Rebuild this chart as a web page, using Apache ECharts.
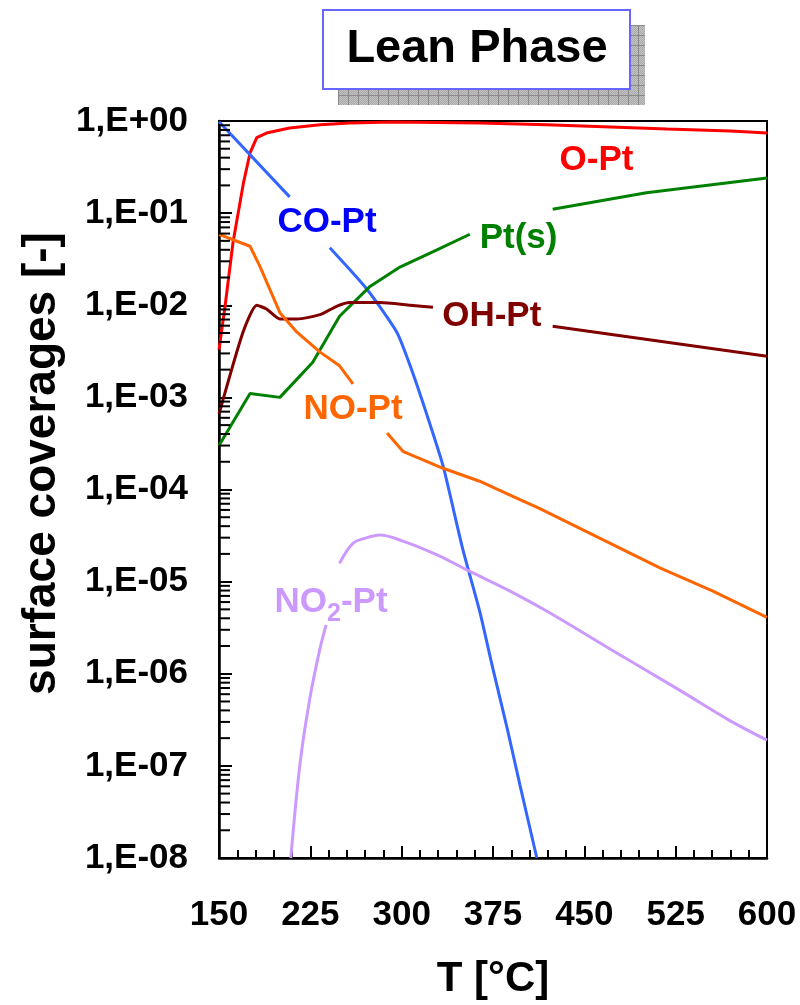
<!DOCTYPE html>
<html>
<head>
<meta charset="utf-8">
<title>Lean Phase – surface coverages</title>
<script src="https://cdn.jsdelivr.net/npm/echarts@6/dist/echarts.min.js"></script>
<style>
  html, body { margin: 0; padding: 0; background: #fff; }
  #chart { width: 800px; height: 1005px; }
</style>
</head>
<body>
<div id="chart"></div>
<script>
// Temperatures [°C] and surface coverages [-]; null marks a break in the curve where its label sits
const oPtT   = [150, 155, 161.5, 170, 175.5, 181, 189, 208, 233, 257, 293, 364, 419, 518, 570, 600];
const oPtV   = [3.3e-3, 9.8e-3, 0.048, 0.21, 0.45, 0.66, 0.74, 0.84, 0.91, 0.95, 0.975, 0.95, 0.91, 0.82, 0.78, 0.74];

const coPtT  = [150, 208, null, 241, 271.5, 296, 307, 321, 334, 350, 364, 375, 386.5, 397, 411];
const coPtV  = [0.98, 0.15, null, 0.042, 0.0149, 5.1e-3, 2.2e-3, 6.3e-4, 1.8e-4, 2.3e-5, 4.8e-6, 1.12e-6, 2.6e-7, 6.3e-8, 1.0e-8];

const ptST   = [150, 175.5, 200, 227, 249, 274, 298.6, 329, 356, null, 424, 501, 600];
const ptSV   = [3.0e-4, 1.1e-3, 1.0e-3, 2.4e-3, 7.6e-3, 0.016, 0.026, 0.04, 0.059, null, 0.11, 0.166, 0.24];

const ohPtT  = [150, 169.7, 181, 189, 200, 214, 233, 247, 257.5, 282, 307, 325.7, null, 424, 600];
const ohPtV  = [6.6e-4, 5.1e-3, 0.0100, 9.1e-3, 7.1e-3, 7.1e-3, 7.9e-3, 9.8e-3, 0.0107, 0.0107, 0.0100, 9.5e-3, null, 5.9e-3, 2.8e-3];

const noPtT  = [150, 175.5, 183.7, 200, 214, 233, 249, 260, null, 288, 301, 334, 364, 389, 413.5, 463, 512, 555.6, 600];
const noPtV  = [0.0589, 0.0437, 0.0263, 8.3e-3, 5.1e-3, 3.1e-3, 2.2e-3, 1.4e-3, null, 4.1e-4, 2.6e-4, 1.7e-4, 1.23e-4, 8.7e-5, 6.2e-5, 2.95e-5, 1.41e-5, 7.9e-6, 4.1e-6];

const no2PtT = [209, 216.5, 224.7, 233, 238, null, 249, 260, 271.5, 282, 301, 329, 356, 389, 419, 473.5, 528.5, 569.5, 600];
const no2PtV = [1.0e-8, 1.05e-7, 5.5e-7, 1.9e-6, 3.4e-6, null, 1.58e-5, 2.6e-5, 3.0e-5, 3.2e-5, 2.75e-5, 1.95e-5, 1.29e-5, 7.9e-6, 4.8e-6, 1.78e-6, 6.6e-7, 3.1e-7, 1.9e-7];

// Where each species name is written: [T, coverage]
const labelPos = {
  'O-Pt':   [460, 0.37],
  'CO-Pt':  [238.7, 0.079],
  'Pt(s)':  [396, 0.053],
  'OH-Pt':  [374, 7.6e-3],
  'NO-Pt':  [260, 7.5e-4],
  'NO2-Pt': [242, 6.0e-6]
};

// Axis settings
const xMin = 150, xMax = 600, xStep = 75;
const yMin = 1e-8, yMax = 1;
const decades = [-8, -7, -6, -5, -4, -3, -2, -1];
const minorFactors = [2, 3, 4, 5, 6, 7, 8, 9];

const FONT = '"Liberation Sans", Arial, sans-serif';

function zip(ts, vs) {
  return ts.map((t, i) => (t === null ? [null, null] : [t, vs[i]]));
}

function expLabel(v) {
  const e = Math.round(Math.log10(v));
  const sign = e < 0 ? '-' : '+';
  const a = Math.abs(e);
  return '1,E' + sign + (a < 10 ? '0' + a : '' + a);
}

function curve(name, ts, vs, color, labelColor, smooth, labelText, rich) {
  return {
    name: name,
    type: 'line',
    data: zip(ts, vs),
    connectNulls: false,
    showSymbol: false,
    symbol: 'none',
    smooth: smooth,
    lineStyle: { color: color, width: 3 },
    itemStyle: { color: color },
    z: 3,
    markPoint: {
      symbol: 'circle',
      symbolSize: 1,
      silent: true,
      itemStyle: { color: 'rgba(0,0,0,0)' },
      label: {
        show: true,
        position: 'inside',
        color: labelColor,
        fontFamily: FONT,
        fontWeight: 'bold',
        fontSize: 35,
        formatter: labelText,
        rich: rich || {}
      },
      data: [{ coord: labelPos[name], value: 0 }]
    }
  };
}

// Log-decade minor ticks (2..9 × 10^d) drawn on the inside of the left axis
const minorTickData = [];
decades.forEach(d => minorFactors.forEach(k => minorTickData.push([xMin, k * Math.pow(10, d)])));

// Hatched pattern for the title shadow
function hatchPattern() {
  const c = document.createElement('canvas');
  c.width = 10; c.height = 10;
  const g = c.getContext('2d');
  g.fillStyle = '#c4c4c4';
  g.fillRect(0, 0, 10, 10);
  g.fillStyle = '#a8a8a8';
  for (let y = 0; y < 10; y++) {
    for (let x = (y % 2); x < 10; x += 2) g.fillRect(x, y, 1, 1);
  }
  g.fillStyle = '#8a8a8a';
  g.fillRect(0, 0, 10, 1);
  g.fillRect(0, 0, 1, 10);
  return c;
}

const chart = echarts.init(document.getElementById('chart'), null, { renderer: 'canvas' });

const option = {
  backgroundColor: '#ffffff',
  animation: false,
  grid: {
    left: 219, right: 33, top: 121, bottom: 144,
    show: true, borderColor: '#000', borderWidth: 2, backgroundColor: 'transparent'
  },
  xAxis: {
    type: 'value',
    min: xMin, max: xMax, interval: xStep,
    name: 'T [°C]',
    nameLocation: 'middle',
    nameGap: 100,
    nameTextStyle: { color: '#000', fontFamily: FONT, fontWeight: 'bold', fontSize: 42 },
    axisLine: { show: true, lineStyle: { color: '#000', width: 2.5 } },
    axisTick: { show: true, inside: true, length: 12, lineStyle: { color: '#000', width: 2 } },
    minorTick: { show: true, splitNumber: 5, length: 8, lineStyle: { color: '#000', width: 2 } },
    splitLine: { show: false },
    axisLabel: { color: '#000', margin: 40, fontFamily: FONT, fontWeight: 'bold', fontSize: 35 }
  },
  yAxis: {
    type: 'log',
    logBase: 10,
    min: yMin, max: yMax,
    splitNumber: 8,
    name: 'surface coverages [-]',
    nameLocation: 'middle',
    nameRotate: 90,
    nameGap: 152,
    nameTextStyle: {
      color: '#000', fontFamily: FONT, fontWeight: 'bold', fontSize: 46,
      padding: [0, 0, 0, 52]
    },
    axisLine: { show: true, lineStyle: { color: '#000', width: 2.5 } },
    axisTick: { show: true, inside: true, length: 13, lineStyle: { color: '#000', width: 2 } },
    minorTick: { show: false },
    splitLine: { show: false },
    axisLabel: {
      color: '#000', margin: 31, fontFamily: FONT, fontWeight: 'bold', fontSize: 35,
      formatter: expLabel
    }
  },
  series: [
    {
      name: 'minor ticks',
      type: 'custom',
      silent: true,
      clip: false,
      z: 5,
      data: minorTickData,
      renderItem: function (params, api) {
        const p = api.coord([api.value(0), api.value(1)]);
        return {
          type: 'line',
          shape: { x1: p[0], y1: p[1], x2: p[0] + 11, y2: p[1] },
          style: { stroke: '#000', lineWidth: 2 }
        };
      }
    },
    curve('O-Pt',   oPtT,   oPtV,   '#ff0000', '#ff0000', false, 'O-Pt'),
    curve('CO-Pt',  coPtT,  coPtV,  '#3366ff', '#0000ff', 0.2,   'CO-Pt'),
    curve('Pt(s)',  ptST,   ptSV,   '#008000', '#008000', false, 'Pt(s)'),
    curve('OH-Pt',  ohPtT,  ohPtV,  '#800000', '#800000', 0.2,   'OH-Pt'),
    curve('NO-Pt',  noPtT,  noPtV,  '#ff6600', '#ff6600', false, 'NO-Pt'),
    curve('NO2-Pt', no2PtT, no2PtV, '#cc99ff', '#cc99ff', 0.35,  '{m|NO}{s|2}{m|-Pt}', {
      m: { fontSize: 35, fontWeight: 'bold', fontFamily: FONT, color: '#cc99ff', lineHeight: 50, verticalAlign: 'middle' },
      s: { fontSize: 25, fontWeight: 'bold', fontFamily: FONT, color: '#cc99ff', lineHeight: 25, verticalAlign: 'bottom' }
    })
  ],
  graphic: [
    {
      type: 'rect',
      left: 338, top: 25,
      shape: { width: 307, height: 80 },
      style: { fill: { image: hatchPattern(), repeat: 'repeat' } },
      silent: true, z: 10
    },
    {
      type: 'rect',
      left: 322, top: 9,
      shape: { width: 307, height: 79 },
      style: { fill: '#ffffff', stroke: '#6666ff', lineWidth: 2 },
      silent: true, z: 11
    },
    {
      type: 'text',
      x: 477, y: 49,
      style: {
        text: 'Lean Phase', fill: '#000',
        font: 'bold 47px "Liberation Sans", Arial, sans-serif',
        align: 'center', verticalAlign: 'middle'
      },
      silent: true, z: 12
    }
  ]
};

chart.setOption(option);
</script>
</body>
</html>
